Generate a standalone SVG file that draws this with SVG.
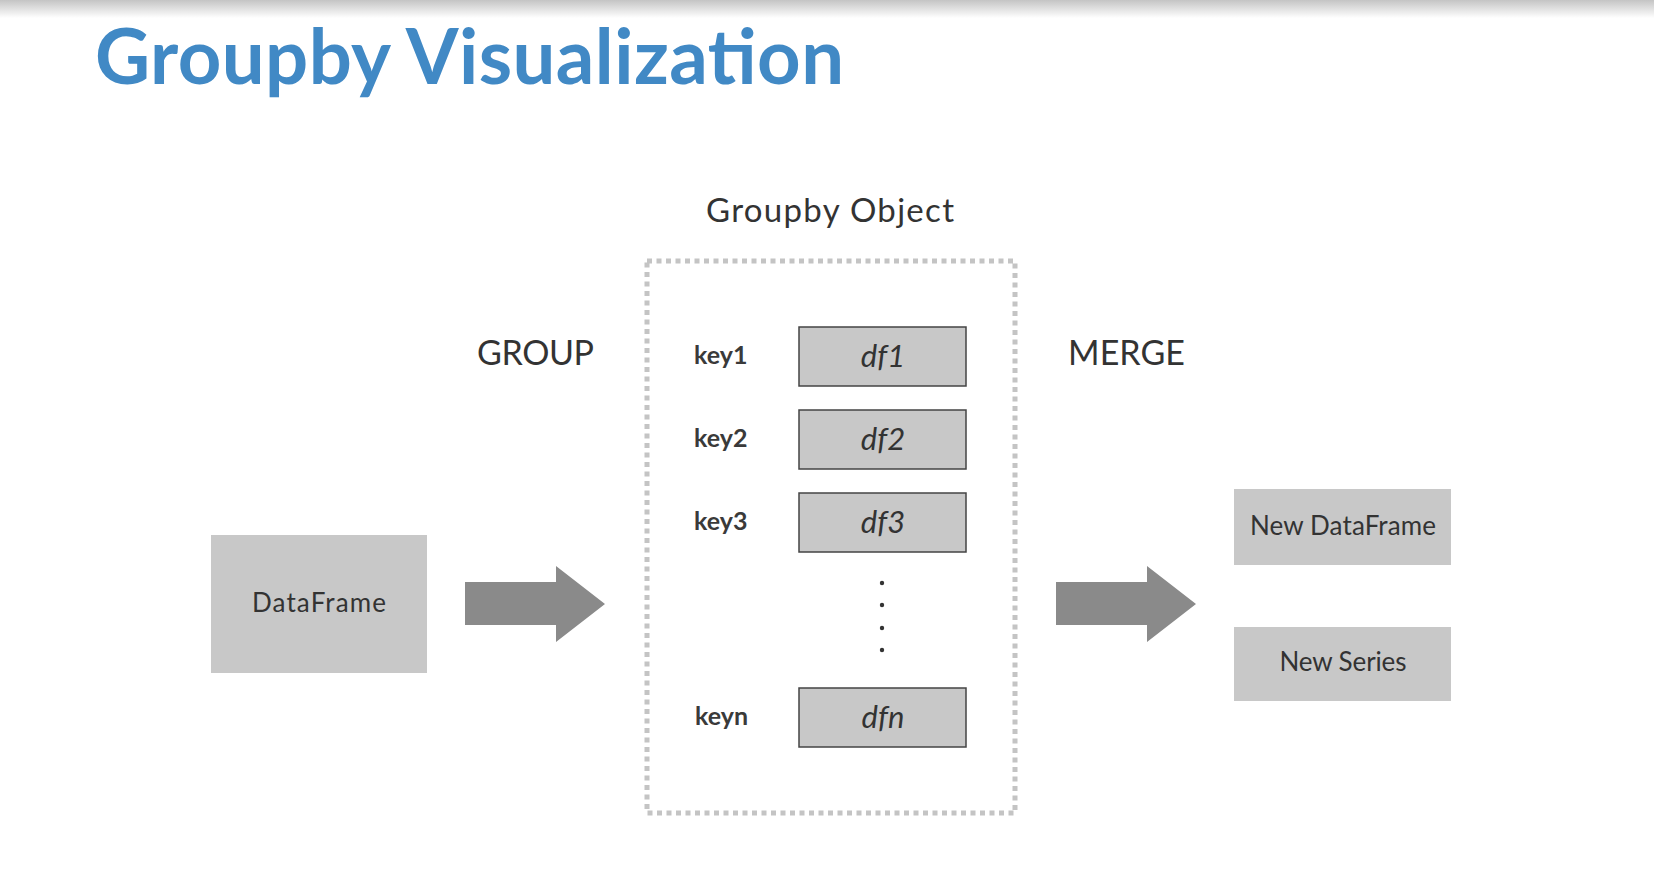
<svg xmlns="http://www.w3.org/2000/svg" width="1654" height="873" viewBox="0 0 1654 873">
<defs>
<linearGradient id="topfade" x1="0" y1="0" x2="0" y2="1">
<stop offset="0" stop-color="#c4c4c4"/>
<stop offset="1" stop-color="#ffffff"/>
</linearGradient>
<style>
.t{font-family:Lato,"Open Sans","Liberation Sans",sans-serif;fill:#333333}
.lbl{font-size:34px}
.key{font-size:25px;font-weight:bold;fill:#3a3a3a}
.df{font-size:31px;font-style:italic;text-anchor:middle}
.box{fill:#c8c8c8}
.dfbox{fill:#c8c8c8;stroke:#444444;stroke-width:1.5}
.boxtxt{font-size:26px;text-anchor:middle}
.arrow{fill:#8a8a8a}
</style>
</defs>
<rect x="0" y="0" width="1654" height="873" fill="#ffffff"/>
<rect x="0" y="0" width="1654" height="18" fill="url(#topfade)"/>
<text class="t" x="95" y="84" font-size="76" font-weight="bold" style="fill:#4189c5" textLength="749" lengthAdjust="spacing">Groupby Visualization</text>

<g id="groupby-object">
<rect x="647" y="261" width="368" height="552" fill="none" stroke="#c4c4c4" stroke-width="5" stroke-dasharray="5 4.5"/>
<text class="t" x="706" y="222" font-size="33" textLength="248" lengthAdjust="spacing">Groupby Object</text>
</g>
<g id="group-label"><text class="t lbl" x="477" y="365" textLength="117" lengthAdjust="spacing">GROUP</text></g>
<g id="merge-label"><text class="t lbl" x="1068" y="365" textLength="117" lengthAdjust="spacing">MERGE</text></g>

<g id="key1"><text class="t key" x="694" y="364">key1</text></g>
<g id="df1"><rect class="dfbox" x="799" y="327" width="167" height="59"/><text class="t df" x="883" y="367">df1</text></g>
<g id="key2"><text class="t key" x="694" y="447">key2</text></g>
<g id="df2"><rect class="dfbox" x="799" y="410" width="167" height="59"/><text class="t df" x="883" y="450">df2</text></g>
<g id="key3"><text class="t key" x="694" y="530">key3</text></g>
<g id="df3"><rect class="dfbox" x="799" y="493" width="167" height="59"/><text class="t df" x="883" y="533">df3</text></g>
<g id="ellipsis" fill="#333333">
<circle cx="882" cy="583" r="2.2"/><circle cx="882" cy="605" r="2.2"/><circle cx="882" cy="628" r="2.2"/><circle cx="882" cy="650" r="2.2"/>
</g>
<g id="keyn"><text class="t key" x="695" y="725">keyn</text></g>
<g id="dfn"><rect class="dfbox" x="799" y="688" width="167" height="59"/><text class="t df" x="883" y="728">dfn</text></g>

<g id="dataframe"><rect class="box" x="211" y="535" width="216" height="138"/><text class="t boxtxt" x="319" y="612" textLength="134" lengthAdjust="spacing">DataFrame</text></g>
<g id="new-dataframe"><rect class="box" x="1234" y="489" width="217" height="76"/><text class="t boxtxt" x="1343" y="535" textLength="186" lengthAdjust="spacing">New DataFrame</text></g>
<g id="new-series"><rect class="box" x="1234" y="627" width="217" height="74"/><text class="t boxtxt" x="1343" y="671" textLength="127" lengthAdjust="spacing">New Series</text></g>

<g id="connectors">
<polygon class="arrow" points="465,582 556,582 556,566 605,604 556,642 556,625 465,625"/>
<polygon class="arrow" points="1056,582 1147,582 1147,566 1196,604 1147,642 1147,625 1056,625"/>
</g>
</svg>
